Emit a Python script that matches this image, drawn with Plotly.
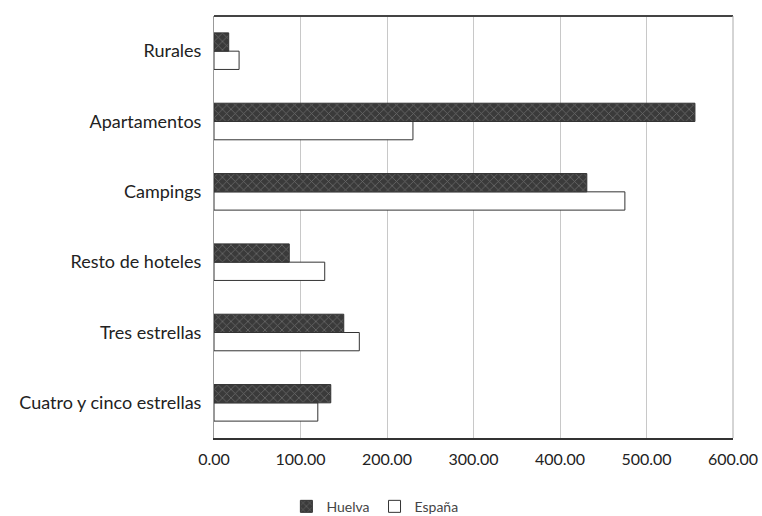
import plotly.graph_objects as go

categories = ["Cuatro y cinco estrellas", "Tres estrellas", "Resto de hoteles",
              "Campings", "Apartamentos", "Rurales"]
huelva = [135, 150, 87, 431, 556, 17]
espana = [120, 168, 128, 475, 230, 29]
tick_vals = [0, 100, 200, 300, 400, 500, 600]
tick_text = ["0.00", "100.00", "200.00", "300.00", "400.00", "500.00", "600.00"]

fig = go.Figure()
fig.add_trace(go.Bar(
    y=categories, x=espana, name="España", orientation="h",
    marker=dict(color="white", line=dict(color="#333333", width=1)),
))
fig.add_trace(go.Bar(
    y=categories, x=huelva, name="Huelva", orientation="h",
    marker=dict(color="#3a3a3a", line=dict(color="#333333", width=1),
                pattern=dict(shape="x", fgcolor="#9a9a9a", bgcolor="#3a3a3a",
                             size=6, solidity=0.25)),
))

fig.update_layout(
    width=762, height=516,
    margin=dict(l=214, r=29, t=16, b=78, autoexpand=False),
    paper_bgcolor="white", plot_bgcolor="white",
    barmode="group", bargap=0.48, bargroupgap=0,
    font=dict(family="Lato, Open Sans, sans-serif", size=15, color="#222222"),
    showlegend=True,
    legend=dict(orientation="h", x=0.31, xanchor="center", y=-0.125, yanchor="top",
                traceorder="reversed", font=dict(size=14, color="#444444"),
                itemwidth=30, tracegroupgap=0),
    xaxis=dict(range=[0, 600], tickvals=tick_vals, ticktext=tick_text,
               showgrid=True, gridcolor="#c8c8c8", gridwidth=1,
               showline=True, linecolor="#333333", linewidth=2, mirror=False,
               ticks="", zeroline=False, tickfont=dict(size=16), automargin=False,
               ticklabelstandoff=6),
    yaxis=dict(showline=True, linecolor="#999999", linewidth=1, ticks="",
               tickfont=dict(size=18), ticklabelstandoff=8, automargin=False),
    shapes=[
        dict(type="line", xref="paper", yref="paper", x0=0, x1=1, y0=1, y1=1,
             line=dict(color="#444444", width=2)),
        dict(type="line", xref="paper", yref="paper", x0=1, x1=1, y0=0, y1=1,
             line=dict(color="#aaaaaa", width=1)),
    ],
)

fig.write_html("out.html", config={"displayModeBar": False},
               post_script="document.body.style.margin='0';document.body.style.overflow='hidden';")
